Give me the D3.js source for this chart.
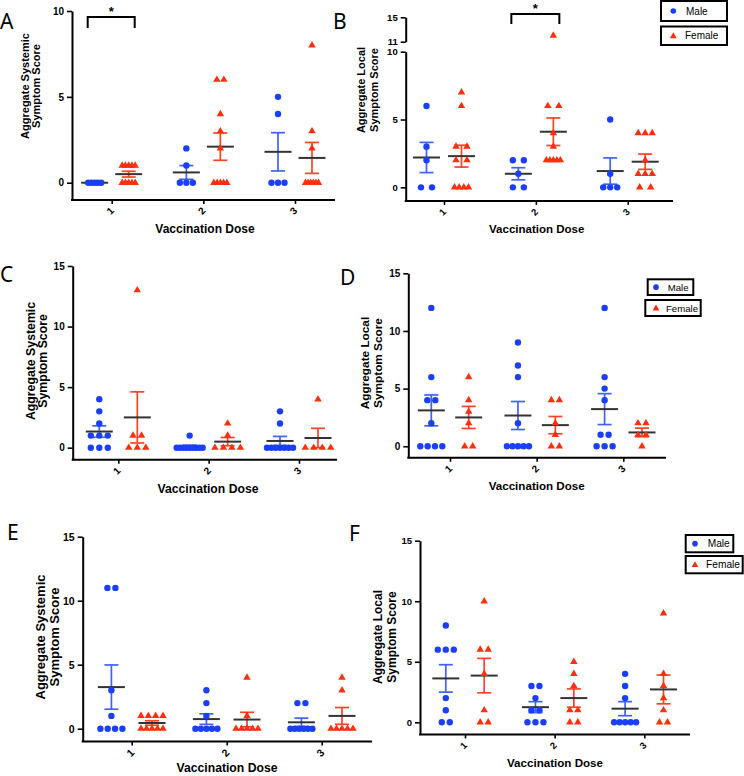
<!DOCTYPE html>
<html><head><meta charset="utf-8">
<script src="https://cdn.jsdelivr.net/npm/d3@7"></script>
<style>body{margin:0;background:#fff}svg{display:block}</style>
</head><body>
<svg id="chart" width="744" height="776"></svg>
<script>
// ---------- data ----------
const doses = ["1", "2", "3"];
const sexes = ["Male", "Female"];
const panelLetters = ["A", "B", "C", "D", "E", "F"];
const xTitle = "Vaccination Dose";
const yTitleSystemic = ["Aggregate Systemic", "Symptom Score"];
const yTitleLocal = ["Aggregate Local", "Symptom Score"];
const ticks10 = [0, 5, 10];
const ticks15 = [0, 5, 10, 15];
const ticksBreakHigh = [11, 15];
const sigMark = "*";

// Panel A: systemic
const aMale = [[0,0,0,0,0],[2,1,0,0,0],[5,4,0,0,0]];
const aFemale = [[1,1,1,1,1,0,0,0,0,0],[6,6,4,3,2,0,0,0,0,0],[8,3,2,0,0,0,0,0,0]];
// Panel B: local
const bMale = [[6,3,2,0,0],[2,2,1,0,0],[5,1,0,0,0]];
const bFemale = [[7,6,3,3,2,2,0,0,0,0],[12,6,6,4,3,2,2,2,2,2],[4,4,4,2,1,1,1,0,0]];
// Panel C: systemic
const cMale = [[4,3,2,1,1,1,0,0,0],[1,0,0,0,0,0,0,0,0,0],[3,2,0,0,0,0,0,0,0]];
const cFemale = [[13,1,1,0,0,0],[2,1,0,0,0,0],[4,0,0,0,0]];
// Panel D: local
const dMale = [[12,6,4,4,2,0,0,0,0],[9,7,6,2,0,0,0,0,0],[12,6,5,4,1,1,0,0,0]];
const dFemale = [[6,4,3,2,0,0],[4,4,2,1,0,0],[2,2,1,1,0]];
// Panel E: systemic
const eMale = [[11,11,3,1,0,0,0,0],[3,2,1,0,0,0,0,0],[2,2,0,0,0,0,0,0]];
const eFemale = [[1,1,1,1,0,0,0,0,0],[4,1,0,0,0,0,0],[4,3,0,0,0,0,0]];
// Panel F: local
const fMale = [[8,6,6,6,2,1,0,0],[3,3,2,1,1,0,0,0],[4,3,2,0,0,0,0,0]];
const fFemale = [[10,6,6,4,1,0,0],[5,4,3,1,1,0,0],[9,4,3,2,1,0,0]];

// ---------- style ----------
const C_MALE = "#1b3ff6", C_MALE_BAR = "#3f63f2";
const C_FEM = "#ff2e0c", C_FEM_BAR = "#ff4128";
const C_MEAN = "#333333";
const AX_FONT = "'Liberation Sans', Arial, sans-serif";
const LET_FONT = "'Noto Sans', 'Open Sans', sans-serif";
const fmtInt = d3.format("d");

const svg = d3.select("#chart");

function drawPanel(cfg, male, female, titleLines, letter) {
  const g = svg.append("g");
  const x = d3.scalePoint().domain(doses).range([cfg.t1, cfg.t3]);
  const sub = d3.scalePoint().domain(sexes).range([-cfg.off, cfg.off]);
  const yLow = d3.scaleLinear().domain([-1, cfg.top]).range(cfg.rng);
  const yHigh = cfg.high ? d3.scaleLinear().domain(cfg.high.dom).range(cfg.high.rng) : null;
  const y = v => (yHigh && v > cfg.top) ? yHigh(v) : yLow(v);
  const yBottom = yLow(-1);

  // y axis
  g.append("g").attr("transform", `translate(${cfg.x0},0)`)
    .call(d3.axisLeft(yLow).tickValues(cfg.ticks).tickFormat(fmtInt).tickSize(5).tickSizeOuter(0).tickPadding(3));
  if (yHigh) {
    g.append("g").attr("transform", `translate(${cfg.x0},0)`)
      .call(d3.axisLeft(yHigh).tickValues(ticksBreakHigh).tickFormat(fmtInt).tickSize(5).tickSizeOuter(0).tickPadding(3));
  }
  g.selectAll(".domain").attr("stroke", "#000").attr("stroke-width", 2);
  g.selectAll(".tick line").attr("stroke", "#000").attr("stroke-width", 1.6);
  g.selectAll(".tick text").attr("font-family", AX_FONT).attr("font-weight", "bold")
    .attr("font-size", cfg.tickFs).attr("fill", "#000");

  // x axis
  const xa = g.append("g").attr("transform", `translate(0,${yBottom})`)
    .call(d3.axisBottom(x).tickSize(4).tickSizeOuter(0));
  xa.select(".domain").remove();
  xa.selectAll(".tick line").attr("stroke", "#000").attr("stroke-width", 1.6);
  xa.selectAll(".tick text").remove();
  xa.selectAll(".tick").append("text")
    .attr("x", 0).attr("y", 0)
    .attr("transform", "translate(-2,11) rotate(-45)")
    .attr("text-anchor", "middle").attr("dominant-baseline", "central")
    .attr("font-family", AX_FONT).attr("font-weight", "bold").attr("font-size", cfg.tickFs)
    .attr("fill", "#000").text(d => d);
  g.append("line").attr("x1", cfg.x0 - 1).attr("x2", cfg.x1).attr("y1", yBottom).attr("y2", yBottom)
    .attr("stroke", "#000").attr("stroke-width", 2);

  // axis titles
  g.append("text").attr("x", cfg.xTitle[0]).attr("y", cfg.xTitle[1])
    .attr("text-anchor", "middle").attr("font-family", AX_FONT).attr("font-weight", "bold")
    .attr("font-size", cfg.xTitleFs).text(xTitle);
  titleLines.forEach((t, i) => {
    g.append("text").attr("x", cfg.titleX[i]).attr("y", cfg.titleY)
      .attr("transform", `rotate(-90,${cfg.titleX[i]},${cfg.titleY})`)
      .attr("text-anchor", "middle").attr("dominant-baseline", "central")
      .attr("font-family", AX_FONT).attr("font-weight", "bold").attr("font-size", cfg.titleFs)
      .text(t);
  });

  // panel letter
  g.append("text").attr("x", cfg.letter[0]).attr("y", cfg.letter[1])
    .attr("font-family", LET_FONT).attr("font-size", 21).text(letter);

  // groups
  const groups = [];
  doses.forEach((d, i) => {
    [["Male", male[i]], ["Female", female[i]]].forEach(([s, vals]) => {
      groups.push({dose: d, sex: s, vals, cx: x(d) + sub(s),
        mean: d3.mean(vals), sem: (d3.deviation(vals) || 0) / Math.sqrt(vals.length)});
    });
  });

  // error bars
  groups.forEach(gr => {
    if (gr.sem <= 0) return;
    const col = gr.sex === "Male" ? C_MALE_BAR : C_FEM_BAR;
    const lo = Math.max(gr.mean - gr.sem, 0), hi = gr.mean + gr.sem;
    g.append("line").attr("x1", gr.cx).attr("x2", gr.cx).attr("y1", y(lo)).attr("y2", y(hi))
      .attr("stroke", col).attr("stroke-width", 1.7);
    [lo, hi].forEach(v => g.append("line").attr("x1", gr.cx - cfg.cap / 2).attr("x2", gr.cx + cfg.cap / 2)
      .attr("y1", y(v)).attr("y2", y(v)).attr("stroke", col).attr("stroke-width", 1.7));
  });
  // mean lines
  groups.forEach(gr => {
    g.append("line").attr("x1", gr.cx - cfg.meanW / 2).attr("x2", gr.cx + cfg.meanW / 2)
      .attr("y1", y(gr.mean)).attr("y2", y(gr.mean)).attr("stroke", C_MEAN).attr("stroke-width", 2);
  });
  // points
  groups.forEach(gr => {
    const counts = d3.rollup(gr.vals, v => v.length, v => v);
    const pts = [];
    counts.forEach((k, v) => {
      const spacing = k > 1 ? Math.min(cfg.sp, cfg.maxSpread / (k - 1)) : 0;
      for (let j = 0; j < k; j++) pts.push({v, px: gr.cx + (j - (k - 1) / 2) * spacing});
    });
    if (gr.sex === "Male") {
      g.selectAll(null).data(pts).enter().append("circle")
        .attr("cx", p => p.px).attr("cy", p => y(p.v)).attr("r", cfg.r).attr("fill", C_MALE);
    } else {
      const tri = d3.symbol().type(d3.symbolTriangle).size(cfg.triSize);
      g.selectAll(null).data(pts).enter().append("path").attr("d", tri)
        .attr("transform", p => `translate(${p.px},${y(p.v)})`).attr("fill", C_FEM);
    }
  });

  // significance bracket
  if (cfg.sig) {
    const d = cfg.sig.dose;
    const xl = x(d) + sub("Male") - 7, xr = x(d) + sub("Female") + 6;
    const top = cfg.sig.top, leg = cfg.sig.leg;
    g.append("path").attr("d", `M${xl},${leg}V${top}H${xr}V${leg}`)
      .attr("fill", "none").attr("stroke", "#000").attr("stroke-width", 2);
    g.append("text").attr("x", (xl + xr) / 2).attr("y", top - 1).attr("text-anchor", "middle")
      .attr("font-family", AX_FONT).attr("font-weight", "bold").attr("font-size", 13).text(sigMark);
  }

  // legend
  if (cfg.legend) {
    const L = cfg.legend;
    sexes.forEach((s, i) => {
      const b = L.boxes[i];
      g.append("rect").attr("x", b[0]).attr("y", b[1]).attr("width", b[2]).attr("height", b[3])
        .attr("fill", "#fff").attr("stroke", "#000").attr("stroke-width", 2);
      const cy = b[1] + b[3] / 2;
      if (s === "Male") {
        g.append("circle").attr("cx", L.symX).attr("cy", cy).attr("r", 2.8).attr("fill", C_MALE);
      } else {
        g.append("path").attr("d", d3.symbol().type(d3.symbolTriangle).size(20))
          .attr("transform", `translate(${L.symX},${cy + 0.5})`).attr("fill", C_FEM);
      }
      g.append("text").attr("x", L.textX[i]).attr("y", cy).attr("dominant-baseline", "central")
        .attr("font-family", AX_FONT).attr("font-size", L.fs).text(s);
    });
  }
}

const common = {r: 3.2, triSize: 24, cap: 14, meanW: 27};

drawPanel(Object.assign({}, common, {
  x0: 72, x1: 335, t1: 111.7, t3: 295, top: 10, rng: [199.9, 11], ticks: ticks10,
  off: 17, sp: 7, maxSpread: 13, tickFs: 10, titleFs: 11, titleX: [25, 36], titleY: 86,
  xTitleFs: 12, xTitle: [205, 233], letter: [0, 29],
  sig: {dose: "1", top: 17, leg: 28}
}), aMale, aFemale, yTitleSystemic, panelLetters[0]);

drawPanel(Object.assign({}, common, {
  x0: 405.7, x1: 673, t1: 444, t3: 627.7, top: 10, rng: [200.9, 51.7], ticks: ticks10,
  high: {dom: [11, 15], rng: [41.7, 17.3]},
  off: 17.5, sp: 11, maxSpread: 14, tickFs: 9.5, titleFs: 11, titleX: [361, 374], titleY: 90,
  xTitleFs: 11.5, xTitle: [536.7, 233], letter: [333, 29],
  sig: {dose: "2", top: 14, leg: 24},
  legend: {boxes: [[661, 1, 66, 20], [661, 26.5, 66, 18.5]], symX: 673.3, textX: [686, 685], fs: 10}
}), bMale, bFemale, yTitleLocal, panelLetters[1]);

drawPanel(Object.assign({}, common, {
  x0: 72.7, x1: 337, t1: 118.3, t3: 299, top: 15, rng: [459.8, 266], ticks: ticks15,
  off: 19, sp: 8.5, maxSpread: 26, tickFs: 10, titleFs: 12.3, titleX: [31, 43], titleY: 361,
  xTitleFs: 12.2, xTitle: [208, 493], letter: [0, 282]
}), cMale, cFemale, yTitleSystemic, panelLetters[2]);

drawPanel(Object.assign({}, common, {
  x0: 408.3, x1: 666, t1: 450, t3: 623.3, top: 15, rng: [457.8, 273.3], ticks: ticks15,
  off: 18.7, sp: 8, maxSpread: 22, tickFs: 10, titleFs: 11.8, titleX: [365, 378], titleY: 363,
  xTitleFs: 11.6, xTitle: [536.7, 490], letter: [340, 285],
  legend: {boxes: [[647.7, 279.3, 45.6, 15.7], [645.3, 300, 55.4, 16]], symX: 656, textX: [667.7, 666], fs: 9.6}
}), dMale, dFemale, yTitleLocal, panelLetters[3]);

drawPanel(Object.assign({}, common, {
  x0: 82.7, x1: 372, t1: 131.7, t3: 321.7, top: 15, rng: [741.5, 536.7], ticks: ticks15,
  off: 20.3, sp: 8, maxSpread: 22, tickFs: 10.5, titleFs: 13, titleX: [40, 54], titleY: 637,
  xTitleFs: 12.2, xTitle: [227, 772], letter: [7, 540]
}), eMale, eFemale, yTitleSystemic, panelLetters[4]);

drawPanel(Object.assign({}, common, {
  x0: 420, x1: 690, t1: 465, t3: 644.3, top: 15, rng: [734.4, 540.7], ticks: ticks15,
  off: 19.2, sp: 8, maxSpread: 22, tickFs: 9.5, titleFs: 12, titleX: [378, 392], titleY: 637,
  xTitleFs: 11.6, xTitle: [555, 767], letter: [349, 541],
  legend: {boxes: [[685.7, 535, 47.6, 17.3], [685.7, 556, 57, 17.3]], symX: 695, textX: [707.7, 706], fs: 10.2}
}), fMale, fFemale, yTitleLocal, panelLetters[5]);
</script>
</body></html>
